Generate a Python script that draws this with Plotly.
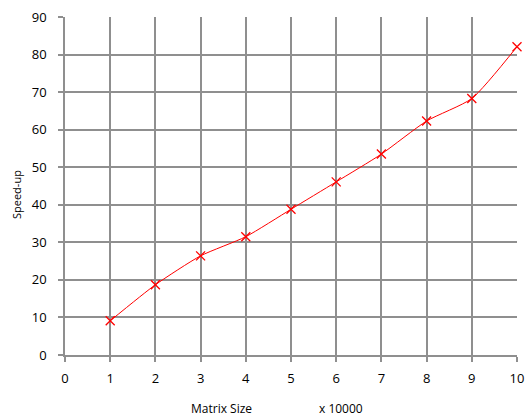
import plotly.graph_objects as go

matrix_size = [1, 2, 3, 4, 5, 6, 7, 8, 9, 10]
speed_up = [9.1, 18.7, 26.4, 31.5, 38.8, 46.1, 53.5, 62.3, 68.3, 82.1]
x_ticks = list(range(0, 11))
y_ticks = list(range(0, 91, 10))

grid = "#8f8f8f"
font = "Open Sans, Liberation Sans, sans-serif"

W, H = 527, 420
L, R, T, B = 65, 10, 17, 65
pw, ph = W - L - R, H - T - B


def px(xs):
    return (xs - L) / pw


def py(ys):
    return (H - B - ys) / ph


fig = go.Figure()
fig.add_trace(go.Scatter(
    x=matrix_size, y=speed_up, mode="lines+markers", cliponaxis=False,
    line=dict(color="#ff0000", width=1, shape="spline", smoothing=0.6),
    marker=dict(symbol="x-thin", size=9, line=dict(color="#ff0000", width=1.3), color="#ff0000"),
    showlegend=False,
))

axis_common = dict(showgrid=True, gridcolor=grid, gridwidth=1.6,
                   showline=True, linecolor=grid, linewidth=1.6, ticks="outside", ticklen=5,
                   tickcolor=grid, tickwidth=1.6, zeroline=False, automargin=False,
                   ticklabeloverflow="allow",
                   tickfont=dict(size=13, color="#000000"))

fig.update_layout(
    width=W, height=H,
    margin=dict(l=L, r=R, t=T, b=B),
    paper_bgcolor="white", plot_bgcolor="white",
    font=dict(family=font, size=13, color="#000000"),
    xaxis=dict(range=[0, 10], tickvals=x_ticks, ticklabelstandoff=6, **axis_common),
    yaxis=dict(range=[0, 90], tickvals=y_ticks, ticklabelstandoff=9, **axis_common),
    annotations=[
        dict(text="Matrix Size", x=px(221), y=py(408), xref="paper", yref="paper",
             xanchor="center", yanchor="middle",
             showarrow=False, font=dict(size=12, color="#000000")),
        dict(text="x 10000", x=px(341), y=py(408), xref="paper", yref="paper",
             xanchor="center", yanchor="middle",
             showarrow=False, font=dict(size=12, color="#000000")),
        dict(text="Speed-up", x=px(16), y=py(195), xref="paper", yref="paper",
             xanchor="center", yanchor="middle",
             textangle=-90, showarrow=False, font=dict(size=11, color="#000000")),
    ],
)

# remove the default 8px page margin so the figure fills the window exactly
fig.write_html("out.html", config={"displayModeBar": False},
               post_script="document.body.style.margin='0';document.body.style.overflow='hidden';")
